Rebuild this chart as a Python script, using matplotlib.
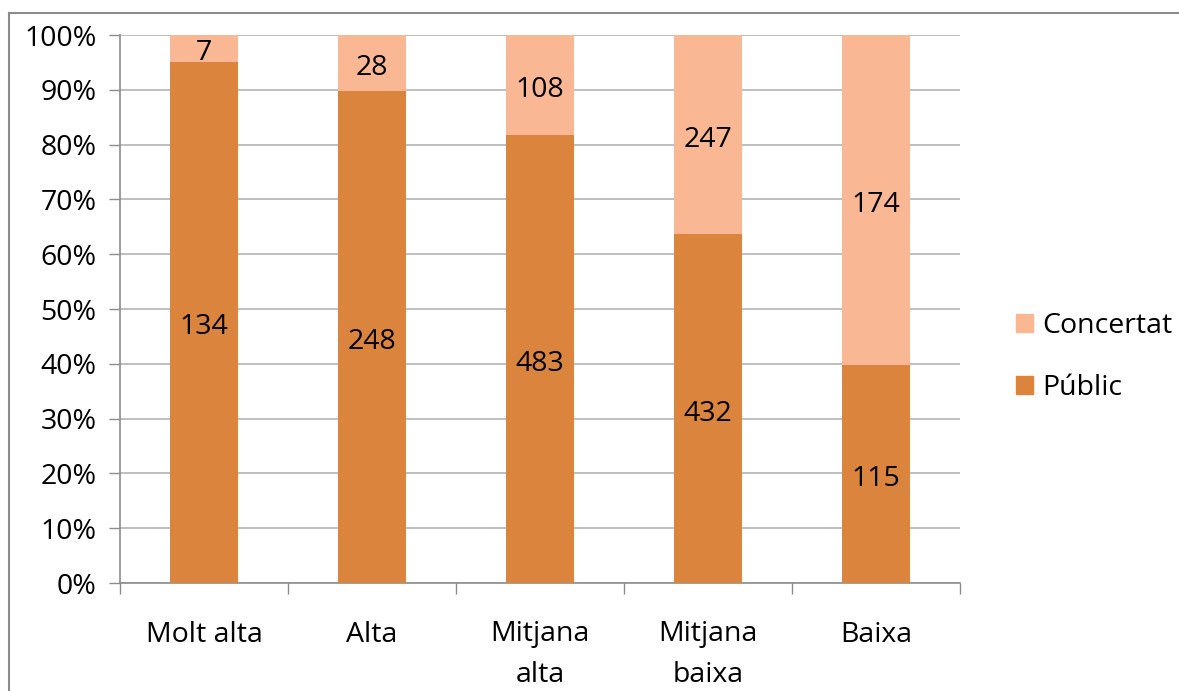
import matplotlib
matplotlib.use("Agg")
import matplotlib.pyplot as plt
import matplotlib.transforms as mtransforms
import numpy as np
from matplotlib.lines import Line2D
from matplotlib.patches import Patch

categories = ["Molt alta", "Alta", "Mitjana\nalta", "Mitjana\nbaixa", "Baixa"]
public = [134, 248, 483, 432, 115]
concertat = [7, 28, 108, 247, 174]
ytick_labels = ["0%", "10%", "20%", "30%", "40%", "50%", "60%", "70%", "80%", "90%", "100%"]

c_pub = "#DB843D"
c_con = "#F9B794"
grid_c = "#B3B3B3"
axis_c = "#8C8C8C"

plt.rcParams['font.family'] = ['Open Sans', 'DejaVu Sans']
fs = 20.5

fig = plt.figure(figsize=(11.79, 6.91), dpi=100)
ax = fig.add_axes([120/1179, 1-583/691, 840/1179, 548/691])

pub = np.array(public, float)
con = np.array(concertat, float)
tot = pub + con
pp = pub / tot * 100
cp = con / tot * 100
x = np.arange(len(categories))
w = 0.405
ax.bar(x, pp, w, color=c_pub, zorder=3, label="Públic")
ax.bar(x, cp, w, bottom=pp, color=c_con, zorder=3, label="Concertat")
lab_tr = ax.transData + mtransforms.ScaledTranslation(0, -3.5/72, fig.dpi_scale_trans)
for i in range(len(x)):
    ax.text(x[i], pp[i]/2, str(public[i]), ha="center", va="center", fontsize=fs, zorder=4, transform=lab_tr)
    ax.text(x[i], pp[i] + cp[i]/2, str(concertat[i]), ha="center", va="center", fontsize=fs, zorder=4, transform=lab_tr)

ax.set_xlim(-0.5, len(x)-0.5)
ax.set_ylim(0, 100)
ax.set_yticks(np.arange(0, 101, 10))
ax.set_yticklabels(ytick_labels, fontsize=fs)
ax.yaxis.grid(True, color=grid_c, linewidth=1.2, zorder=0)
ax.set_axisbelow(True)
ax.tick_params(axis="y", length=8, width=1, color=axis_c, pad=9)

ax.set_xticks(x)
ax.set_xticklabels(categories, fontsize=fs, linespacing=1.6, va="top")
ax.tick_params(axis="x", which="major", length=0, pad=27)
ax.set_xticks(np.arange(-0.5, len(x), 1), minor=True)
ax.tick_params(axis="x", which="minor", length=8, width=1, color=axis_c)

for s in ["top", "right"]:
    ax.spines[s].set_visible(False)
for s in ["left", "bottom"]:
    ax.spines[s].set_color(axis_c)
    ax.spines[s].set_linewidth(1.2)

handles = [Patch(color=c_con), Patch(color=c_pub)]
fig.legend(handles, ["Concertat", "Públic"], loc="center left",
           bbox_to_anchor=(990/1179, 1-357/691), frameon=False, fontsize=fs,
           handlelength=0.6, handleheight=0.6, handletextpad=0.35, labelspacing=1.2)

# outer border
fig.add_artist(Line2D([9/1179, 9/1179], [0, 1-13/691], color="#8C8C8C", lw=1.5, transform=fig.transFigure))
fig.add_artist(Line2D([9/1179, 1], [1-13/691, 1-13/691], color="#8C8C8C", lw=1.5, transform=fig.transFigure))

fig.savefig("out.png", dpi=100)
